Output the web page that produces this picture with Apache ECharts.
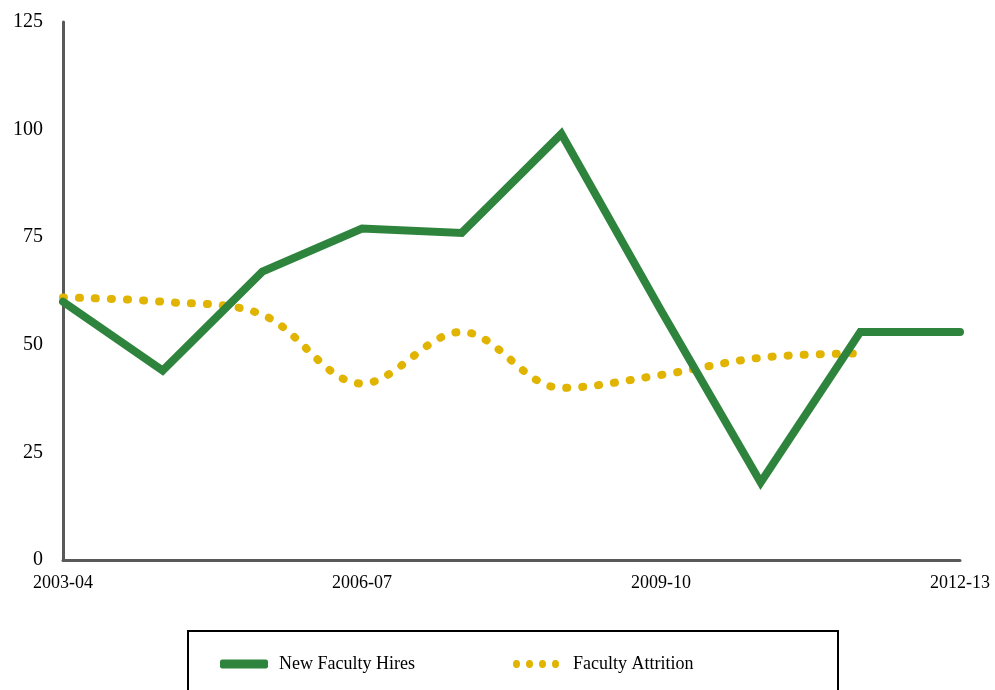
<!DOCTYPE html>
<html>
<head>
<meta charset="utf-8">
<script src="https://cdn.jsdelivr.net/npm/echarts@6/dist/echarts.min.js"></script>
<style>
  html, body { margin: 0; padding: 0; background: #fff; }
  #main { width: 995px; height: 690px; }
</style>
</head>
<body>
<div id="main"></div>
<script>
// 学年
var years = ['2003-04', '2004-05', '2005-06', '2006-07', '2007-08',
             '2008-09', '2009-10', '2010-11', '2011-12', '2012-13'];
var newHires = [60, 44, 67, 77, 76, 99, 58, 18, 53, 53];
var attrition = [61, 60, 57, 41, 53, 40, 43, 47, 48, null];
var yTicks = [0, 25, 50, 75, 100, 125];

var serif = '"Liberation Serif", "DejaVu Serif", serif';
// 图例里的四个点
var dotsIcon = 'path://M3.5,0A3.5,4 0 1,1 3.5,8A3.5,4 0 1,1 3.5,0Z' +
    'M16.5,0A3.5,4 0 1,1 16.5,8A3.5,4 0 1,1 16.5,0Z' +
    'M29.5,0A3.5,4 0 1,1 29.5,8A3.5,4 0 1,1 29.5,0Z' +
    'M42.5,0A3.5,4 0 1,1 42.5,8A3.5,4 0 1,1 42.5,0Z';
var myChart = echarts.init(document.getElementById('main'));

var option = {
    animation: false,
    backgroundColor: '#fff',
    grid: {
        left: 63,
        right: 35,
        top: 22,
        bottom: 130
    },
    legend: [
        {
            data: [{ name: 'New Faculty Hires', icon: 'roundRect' }],
            left: 215,
            top: 650,
            itemWidth: 48,
            itemHeight: 9,
            itemStyle: { color: '#2e843c' },
            textStyle: { fontFamily: serif, fontSize: 18, color: '#000', padding: [0, 0, 0, 6] }
        },
        {
            data: [{ name: 'Faculty Attrition', icon: dotsIcon }],
            left: 508,
            top: 650,
            itemWidth: 46,
            itemHeight: 9,
            itemStyle: { color: '#e0b400' },
            textStyle: { fontFamily: serif, fontSize: 18, color: '#000', padding: [0, 0, 0, 9] }
        }
    ],
    graphic: [
        {
            type: 'rect',
            shape: { x: 188, y: 631, width: 650, height: 80 },
            style: { fill: 'none', stroke: '#000', lineWidth: 2 },
            silent: true
        }
    ],
    xAxis: {
        type: 'category',
        data: years,
        boundaryGap: false,
        axisLine: { show: true, lineStyle: { color: '#595959', width: 3 } },
        axisTick: { show: false },
        axisLabel: {
            interval: 2,
            margin: 14,
            fontFamily: serif,
            fontSize: 18,
            color: '#000'
        },
        splitLine: { show: false }
    },
    yAxis: {
        type: 'value',
        min: yTicks[0],
        max: yTicks[yTicks.length - 1],
        interval: 25,
        axisLine: { show: true, lineStyle: { color: '#595959', width: 3 } },
        axisTick: { show: false },
        axisLabel: {
            margin: 20,
            fontFamily: serif,
            fontSize: 20,
            color: '#000'
        },
        splitLine: { show: false }
    },
    series: [
        {
            name: 'New Faculty Hires',
            type: 'line',
            data: newHires,
            symbol: 'none',
            color: '#2e843c',
            lineStyle: { color: '#2e843c', width: 8, cap: 'round', join: 'miter' },
            z: 3
        },
        {
            name: 'Faculty Attrition',
            type: 'line',
            data: attrition,
            symbol: 'none',
            smooth: 0.35,
            color: '#e0b400',
            lineStyle: { color: '#e0b400', width: 8, type: [1, 15], cap: 'round' },
            z: 2
        }
    ]
};

myChart.setOption(option);
</script>
</body>
</html>
